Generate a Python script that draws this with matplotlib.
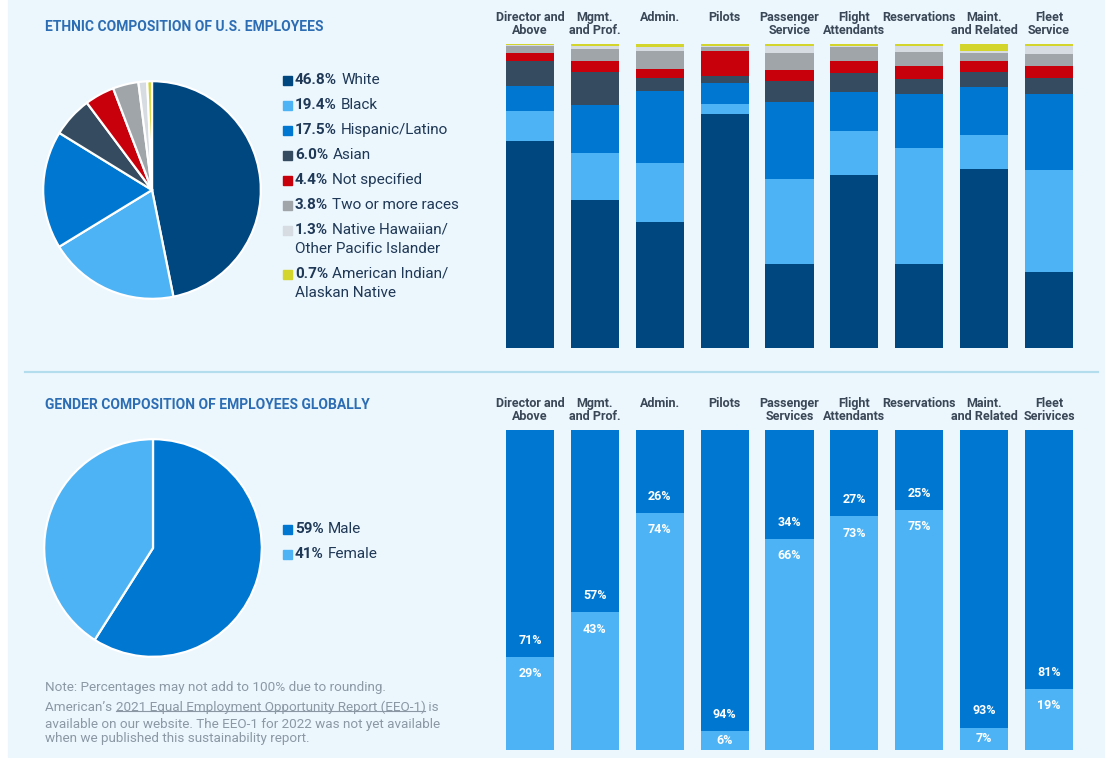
import matplotlib
matplotlib.use("Agg")
import matplotlib.pyplot as plt
from matplotlib.patches import Rectangle

W, H = 1105, 758

# ethnic composition data
eth_labels = ["White", "Black", "Hispanic/Latino", "Asian", "Not specified",
              "Two or more races", "Native Hawaiian/\nOther Pacific Islander",
              "American Indian/\nAlaskan Native"]
eth_pct = [46.8, 19.4, 17.5, 6.0, 4.4, 3.8, 1.3, 0.7]
eth_colors = ["#00467f", "#4db3f5", "#0077d0", "#354b5f", "#c8000b",
              "#a0a5aa", "#d6dce2", "#d3d52c"]

top_cats = ["Director and\nAbove", "Mgmt.\nand Prof.", "Admin.", "Pilots",
            "Passenger\nService", "Flight\nAttendants", "Reservations",
            "Maint.\nand Related", "Fleet\nService"]
# per group, stacked bottom-up in eth_labels order
white = [68.1, 48.7, 41.4, 77.1, 27.6, 56.8, 27.6, 58.8, 25.0]
black = [9.9, 15.4, 19.3, 3.2, 27.9, 14.6, 38.3, 11.2, 33.4]
hispanic = [8.2, 15.8, 23.9, 6.8, 25.4, 12.7, 17.6, 15.8, 25.2]
asian = [8.2, 11.0, 4.2, 2.4, 6.9, 6.5, 5.1, 5.1, 5.1]
not_spec = [2.7, 3.5, 3.0, 8.3, 3.8, 3.8, 4.2, 3.6, 4.2]
two_more = [2.2, 3.9, 5.8, 1.3, 5.5, 4.7, 4.6, 2.4, 3.8]
hawaiian = [0.3, 1.1, 1.4, 0.3, 2.3, 0.3, 2.0, 0.9, 2.7]
am_indian = [0.4, 0.5, 1.1, 0.5, 0.5, 0.5, 0.5, 2.2, 0.5]
eth_series = [white, black, hispanic, asian, not_spec, two_more, hawaiian, am_indian]

# gender composition data
gen_labels = ["Male", "Female"]
gen_pct = [59, 41]
gen_colors = ["#0077d0", "#4db3f5"]
bot_cats = ["Director and\nAbove", "Mgmt.\nand Prof.", "Admin.", "Pilots",
            "Passenger\nServices", "Flight\nAttendants", "Reservations",
            "Maint.\nand Related", "Fleet\nSerivices"]
male = [71, 57, 26, 94, 34, 27, 25, 93, 81]
female = [29, 43, 74, 6, 66, 73, 75, 7, 19]

plt.rcParams["font.family"] = ["Roboto", "DejaVu Sans"]
NAVY_TXT = "#1f3856"
TITLE = "#2d6db3"
NOTE = "#8c99a5"

fig = plt.figure(figsize=(W / 100, H / 100), dpi=100, facecolor="white")
bg = fig.add_axes([0, 0, 1, 1])
bg.set_xlim(0, W)
bg.set_ylim(H, 0)
bg.axis("off")
bg.add_patch(Rectangle((8, 0), W - 8, H, color="#ebf6fd", zorder=0))
bg.plot([25, 1098], [372, 372], color="#b3dcec", lw=1.5)


def px_axes(left, top, width, height):
    return fig.add_axes([left / W, 1 - (top + height) / H, width / W, height / H])


def pie_at(cx, cy, r, vals, colors):
    ax = px_axes(cx - r, cy - r, 2 * r, 2 * r)
    ax.pie(vals, colors=colors, startangle=90, counterclock=False,
           wedgeprops=dict(edgecolor="white", linewidth=1.6))
    ax.set_xlim(-1.02, 1.02)
    ax.set_ylim(-1.02, 1.02)
    ax.set_aspect("equal")
    ax.axis("off")


def legend_rows(x, y, pcts, labels, colors, fmt):
    for p, lab, c in zip(pcts, labels, colors):
        lines = lab.split("\n")
        bg.add_patch(Rectangle((x, y - 4.5), 9, 9, color=c))
        b = bg.text(x + 12, y, fmt.format(p), fontsize=11, fontweight="bold",
                    color=NAVY_TXT, va="center", ha="left")
        bg.annotate(lines[0], xy=(1, 0.5), xycoords=b, xytext=(3, 0),
                    textcoords="offset points", fontsize=11, color=NAVY_TXT,
                    va="center", ha="left")
        for k, extra in enumerate(lines[1:], 1):
            bg.text(x + 12, y + 19 * k, extra, fontsize=11, color=NAVY_TXT,
                    va="center", ha="left")
        y += 25 + 19 * (len(lines) - 1)


# titles
bg.text(45, 27, "ETHNIC COMPOSITION OF U.S. EMPLOYEES", fontsize=10,
        fontweight="bold", color=TITLE, va="center")
bg.text(45, 405, "GENDER COMPOSITION OF EMPLOYEES GLOBALLY", fontsize=10,
        fontweight="bold", color=TITLE, va="center")

# pies + legends
pie_at(152, 190, 111, eth_pct, eth_colors)
legend_rows(283, 80, eth_pct, eth_labels, eth_colors, "{:.1f}%")
pie_at(153, 548, 111, gen_pct, gen_colors)
legend_rows(283, 529, gen_pct, gen_labels, gen_colors, "{}%")

# ethnic stacked bars
ax1 = px_axes(497.5, 44, 584, 304)
xs = range(len(top_cats))
bottom = [0] * len(top_cats)
for vals, c in zip(eth_series, eth_colors):
    ax1.bar(xs, vals, bottom=bottom, width=0.74, color=c, linewidth=0)
    bottom = [b + v for b, v in zip(bottom, vals)]

# gender stacked bars
ax2 = px_axes(497.5, 430, 584, 320)
ax2.bar(xs, female, width=0.74, color=gen_colors[1], linewidth=0)
ax2.bar(xs, male, bottom=female, width=0.74, color=gen_colors[0], linewidth=0)
lab_kw = dict(ha="center", va="center", color="white", fontsize=9,
              fontweight="bold")
for i, (m, f) in enumerate(zip(male, female)):
    ax2.annotate(f"{m}%", xy=(i, f), xytext=(0, 12), textcoords="offset points",
                 **lab_kw)
    if f < 10:
        ax2.text(i, f / 2, f"{f}%", **lab_kw)
    else:
        ax2.annotate(f"{f}%", xy=(i, f), xytext=(0, -12),
                     textcoords="offset points", **lab_kw)

for ax, cats in ((ax1, top_cats), (ax2, bot_cats)):
    ax.set_xlim(-0.5, len(cats) - 0.5)
    ax.set_ylim(0, 100)
    ax.axis("off")
    for i, name in enumerate(cats):
        ax.annotate(name, xy=(i, 100), xytext=(0, 24), textcoords="offset points",
                    ha="center", va="top", fontsize=9, fontweight="bold",
                    color="#3a4756", linespacing=1.05, annotation_clip=False)

# notes
note_kw = dict(fontsize=9.7, color=NOTE, va="baseline", ha="left")
bg.text(45, 691, "Note: Percentages may not add to 100% due to rounding.", **note_kw)
t1 = bg.text(45, 714, "American\u2019s ", **note_kw)
t2 = bg.annotate("2021 Equal Employment Opportunity Report (EEO-1)", xy=(1, 0),
                 xycoords=t1, **note_kw)
t2.set_va("bottom")
t1.set_va("bottom")
t3 = bg.annotate(" is", xy=(1, 0), xycoords=t2, **note_kw)
t3.set_va("bottom")
bg.text(45, 728, "available on our website. The EEO-1 for 2022 was not yet available",
        **note_kw)
bg.text(45, 742, "when we published this sustainability report.", **note_kw)

fig.canvas.draw()
bb = t2.get_window_extent()
inv = bg.transData.inverted()
(x0, y0), (x1, y1) = inv.transform([(bb.x0, bb.y0), (bb.x1, bb.y1)])
uy = y0 - 0.2 * (y0 - y1)
bg.plot([x0, x1], [uy, uy], color=NOTE, lw=0.8)

fig.savefig("out.png", dpi=100, facecolor="white")
